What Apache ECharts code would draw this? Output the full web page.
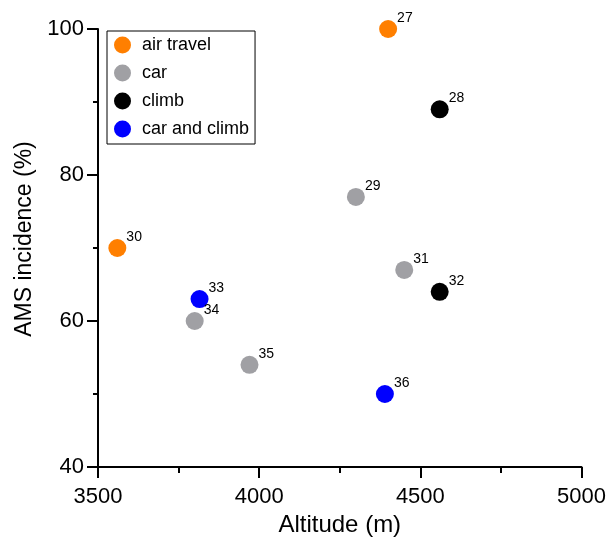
<!DOCTYPE html>
<html>
<head>
<meta charset="utf-8">
<script src="https://cdn.jsdelivr.net/npm/echarts@6/dist/echarts.min.js"></script>
<style>
  html, body { margin: 0; padding: 0; background: #fff; }
  #main { width: 609px; height: 544px; }
</style>
</head>
<body>
<div id="main"></div>
<script>
// study id, altitude (m), AMS incidence (%), ascent mode
var ids       = ['27', '28', '29', '30', '31', '32', '33', '34', '35', '36'];
var altitude  = [4400, 4560, 4300, 3560, 4450, 4560, 3815, 3800, 3970, 4390];
var incidence = [100,  89,   77,   70,   67,   64,   63,   60,   54,   50];
var mode      = ['air travel', 'climb', 'car', 'air travel', 'car', 'climb', 'car and climb', 'car', 'car', 'car and climb'];

var groups = ['air travel', 'car', 'climb', 'car and climb'];
var colors = ['#FF7F00', '#A0A0A4', '#000000', '#0000FF'];

var xTicks = [3500, 5000, 500];   // min, max, interval
var yTicks = [40, 100, 20];

var font = 'Liberation Sans, Arial, sans-serif';

var series = groups.map(function (g, gi) {
  var pts = [];
  for (var i = 0; i < ids.length; i++) {
    if (mode[i] === g) pts.push({ value: [altitude[i], incidence[i]], name: ids[i] });
  }
  return {
    name: g,
    type: 'scatter',
    data: pts,
    symbolSize: 18,
    itemStyle: { color: colors[gi], opacity: 1 },
    label: {
      show: true,
      formatter: '{b}',
      position: [18, -9],
      color: '#000',
      fontSize: 14,
      fontFamily: font
    }
  };
});

var myChart = echarts.init(document.getElementById('main'));
var option = {
  backgroundColor: '#fff',
  animation: false,
  grid: { left: 98, right: 26, top: 29, bottom: 77 },
  legend: {
    orient: 'vertical',
    left: 107,
    top: 31,
    data: groups,
    icon: 'circle',
    itemWidth: 17,
    itemHeight: 17,
    itemGap: 10,
    padding: [5, 6, 6, 7],
    borderColor: '#000',
    borderWidth: 1,
    textStyle: { fontSize: 18, color: '#000', fontFamily: font, padding: [0, 0, 0, 6] }
  },
  xAxis: {
    type: 'value',
    min: xTicks[0], max: xTicks[1], interval: xTicks[2],
    name: 'Altitude (m)',
    nameLocation: 'middle',
    nameGap: 46,
    nameTextStyle: { fontSize: 24, color: '#000', fontFamily: font },
    axisLine: { show: true, lineStyle: { color: '#000', width: 2 } },
    axisTick: { show: true, length: 11, lineStyle: { color: '#000', width: 2 } },
    minorTick: { show: true, splitNumber: 2, length: 6, lineStyle: { color: '#000', width: 2 } },
    axisLabel: { fontSize: 22, color: '#000', margin: 19, fontFamily: font,
      formatter: function (v) { return String(v); } },
    splitLine: { show: false }
  },
  yAxis: {
    type: 'value',
    min: yTicks[0], max: yTicks[1], interval: yTicks[2],
    name: 'AMS incidence (%)',
    nameLocation: 'middle',
    nameGap: 60,
    nameTextStyle: { fontSize: 23, color: '#000', fontFamily: font, padding: [0, 0, 0, 18] },
    axisLine: { show: true, lineStyle: { color: '#000', width: 2 } },
    axisTick: { show: true, length: 11, lineStyle: { color: '#000', width: 2 } },
    minorTick: { show: true, splitNumber: 2, length: 5, lineStyle: { color: '#000', width: 2 } },
    axisLabel: { fontSize: 22, color: '#000', margin: 14, fontFamily: font },
    splitLine: { show: false }
  },
  series: series
};
myChart.setOption(option);
</script>
</body>
</html>
